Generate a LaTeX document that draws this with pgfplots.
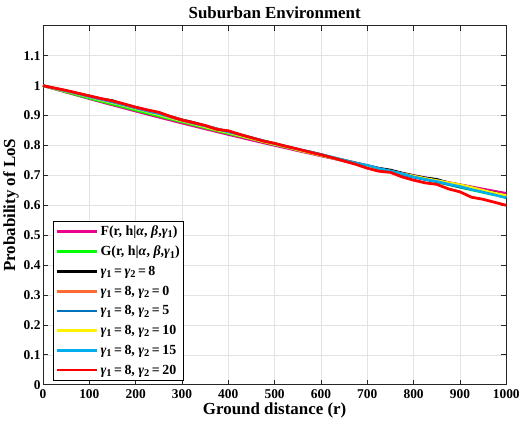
\documentclass[border=0pt]{standalone}
\usepackage{pgfplots}
\pgfplotsset{compat=1.18}
\usepackage{pgfplotstable}
\usepackage{fontspec}
\setmainfont{Liberation Serif}
\definecolor{axgray}{HTML}{262626}
\definecolor{gridgray}{HTML}{E3E3E3}
\definecolor{myorange}{HTML}{FF6A33}
\definecolor{myblue}{HTML}{0072BD}
\newcommand{\g}[1]{\textbf{\textit{γ}}\raisebox{-0.35ex}{\fontsize{10.5}{11}\selectfont\bfseries #1}}
\newcommand{\gi}[1]{\textbf{\textit{#1}}}
\newcommand{\eq}{\hspace{0.18em}=\hspace{0.18em}}

\pgfplotstableread{
r F G
0 1.0 1.0
50 0.97793 0.979
100 0.95635 0.958
150 0.93524 0.938
200 0.91461 0.918
250 0.89443 0.898
300 0.87469 0.879
350 0.85539 0.859
400 0.83651 0.840
450 0.81805 0.822
500 0.8 0.803
550 0.78235 0.785
600 0.76508 0.767
650 0.74820 0.749
700 0.73168 0.731
750 0.71554 0.713
800 0.69976 0.696
850 0.68431 0.678
900 0.66921 0.660
950 0.65444 0.643
1000 0.64 0.626
}\smooth

\pgfplotstableread{
r    blk   org   blu   yel   cyn   red
0    1.000 1.000 1.000 1.000 1.000 1.000
25   0.991 0.991 0.990 0.990 0.991 0.992
50   0.983 0.983 0.982 0.981 0.982 0.984
75   0.974 0.974 0.973 0.972 0.973 0.975
100  0.965 0.965 0.963 0.962 0.963 0.966
125  0.956 0.955 0.953 0.952 0.954 0.957
150  0.950 0.947 0.944 0.943 0.945 0.949
175  0.937 0.937 0.934 0.933 0.935 0.939
200  0.928 0.927 0.924 0.923 0.925 0.928
225  0.918 0.917 0.915 0.913 0.915 0.919
250  0.908 0.908 0.905 0.903 0.906 0.911
275  0.897 0.896 0.894 0.892 0.895 0.897
300  0.886 0.885 0.884 0.882 0.884 0.885
325  0.877 0.875 0.874 0.872 0.874 0.876
350  0.866 0.866 0.864 0.862 0.865 0.867
375  0.856 0.855 0.853 0.852 0.855 0.854
400  0.846 0.847 0.844 0.843 0.845 0.849
425  0.836 0.836 0.834 0.833 0.836 0.837
450  0.826 0.825 0.824 0.823 0.826 0.826
475  0.816 0.815 0.814 0.813 0.816 0.815
500  0.806 0.806 0.805 0.804 0.806 0.807
525  0.797 0.796 0.795 0.795 0.797 0.797
550  0.787 0.787 0.786 0.785 0.788 0.788
575  0.779 0.778 0.777 0.776 0.779 0.778
600  0.770 0.768 0.767 0.767 0.770 0.769
625  0.759 0.759 0.758 0.758 0.761 0.759
650  0.751 0.750 0.749 0.749 0.751 0.748
675  0.742 0.740 0.739 0.740 0.741 0.737
700  0.733 0.730 0.730 0.731 0.734 0.724
725  0.724 0.721 0.720 0.722 0.723 0.714
750  0.718 0.713 0.712 0.714 0.715 0.710
775  0.708 0.704 0.703 0.706 0.706 0.695
800  0.699 0.695 0.694 0.698 0.695 0.684
825  0.692 0.687 0.686 0.690 0.687 0.675
850  0.687 0.680 0.679 0.683 0.680 0.670
875  0.675 0.671 0.670 0.676 0.671 0.655
900  0.668 0.662 0.661 0.669 0.663 0.645
925  0.660 0.654 0.653 0.660 0.653 0.627
950  0.649 0.646 0.645 0.650 0.644 0.620
975  0.642 0.638 0.637 0.641 0.635 0.610
1000 0.632 0.630 0.629 0.633 0.625 0.600
}\noisy

\begin{document}
\begin{tikzpicture}
\begin{axis}[
  scale only axis,
  width=466pt, height=361pt,
  xmin=0, xmax=1000, ymin=0, ymax=1.2,
  xtick={0,100,...,1000},
  ytick={0,0.1,0.2,0.3,0.4,0.5,0.6,0.7,0.8,0.9,1,1.1},
  /pgf/number format/assume math mode=true,
  /pgf/number format/1000 sep={},
  ticklabel style={font=\fontsize{13.5}{14}\selectfont\bfseries},
  xticklabel style={yshift=-1pt},
  yticklabel style={xshift=1pt},
  grid=major,
  major grid style={gridgray, line width=0.6pt},
  axis line style={axgray, line width=0.7pt},
  tick style={axgray, line width=0.7pt},
  tick align=inside,
  major tick length=5pt,
  xtick pos=both, ytick pos=both,
  title={\bfseries Suburban Environment},
  title style={font=\fontsize{17}{18}\selectfont\bfseries, yshift=-2pt},
  xlabel={\bfseries Ground distance (r)},
  ylabel={\bfseries Probability of LoS},
  label style={font=\fontsize{17}{18}\selectfont\bfseries},
  xlabel style={yshift=2pt},
  ylabel style={yshift=-2pt},
  legend style={at={(rel axis cs:0.0215,0.011)}, anchor=south west,
    draw=black, line width=0.6pt, fill=white,
    font=\fontsize{14}{15}\selectfont\bfseries,
    row sep=5pt, inner xsep=2pt, inner ysep=3pt},
  legend cell align=left,
  legend image code/.code={\draw[#1, line width=2.6pt] (0pt,0pt) -- (41pt,0pt);},
  clip=false,
]
\path (rel axis cs:-0.0923,-0.1302) rectangle (rel axis cs:1.030,1.072);
\addplot[magenta, line width=2.5pt] table[x=r,y=F] {\smooth};
\addlegendentry{F(r, h|\gi{α}, \gi{β},\g{1})}
\addplot[green, line width=2.5pt] table[x=r,y=G] {\smooth};
\addlegendentry{G(r, h|\gi{α}, \gi{β},\g{1})}
\addplot[black, line width=2.5pt] table[x=r,y=blk] {\noisy};
\addlegendentry{\g{1}\eq\g{2}\eq 8}
\addplot[myorange, line width=2.5pt] table[x=r,y=org] {\noisy};
\addlegendentry{\g{1}\eq 8, \g{2}\eq 0}
\addplot[myblue, line width=2.5pt] table[x=r,y=blu] {\noisy};
\addlegendentry{\g{1}\eq 8, \g{2}\eq 5}
\addplot[yellow, line width=2.5pt] table[x=r,y=yel] {\noisy};
\addlegendentry{\g{1}\eq 8, \g{2}\eq 10}
\addplot[cyan, line width=2.5pt] table[x=r,y=cyn] {\noisy};
\addlegendentry{\g{1}\eq 8, \g{2}\eq 15}
\addplot[red, line width=2.8pt] table[x=r,y=red] {\noisy};
\addlegendentry{\g{1}\eq 8, \g{2}\eq 20}
\end{axis}
\end{tikzpicture}
\end{document}
